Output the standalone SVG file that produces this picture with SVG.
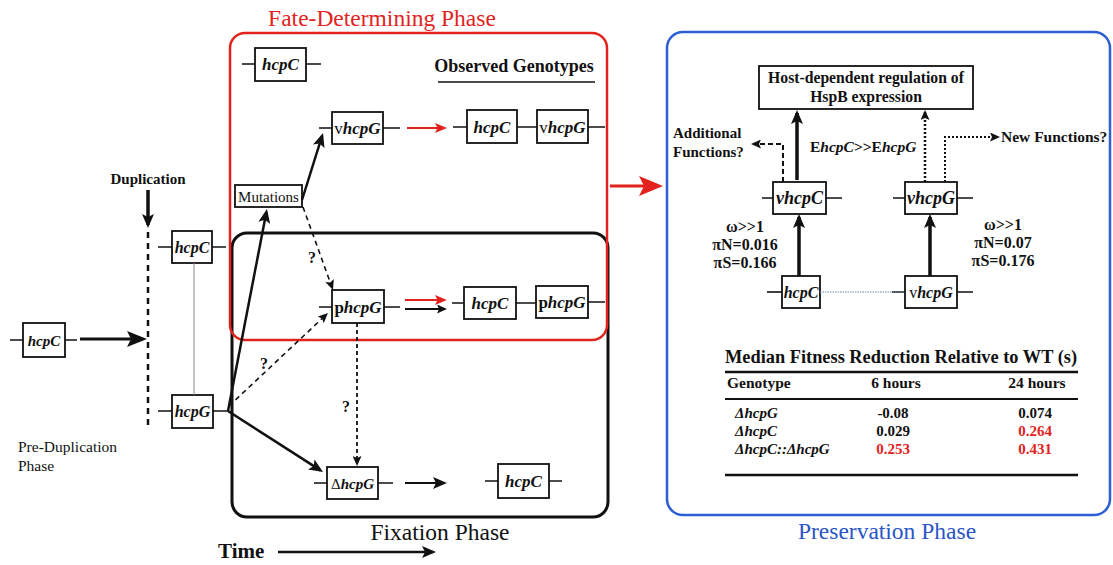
<svg xmlns="http://www.w3.org/2000/svg" width="1113" height="565" viewBox="0 0 1113 565">
<style>
text{font-family:"Liberation Serif","Times New Roman",serif;fill:#111}
.b{font-weight:bold}
.gi{font-weight:bold;font-style:italic}
.box{fill:#fff;stroke:#111;stroke-width:1.8}
.stub{stroke:#111;stroke-width:1.6;fill:none}
.g{font-size:17px;text-anchor:middle}
.gs{font-size:15px;text-anchor:middle}
.ln{stroke:#111;fill:none}
.red{fill:#e2231d}
.q{font-weight:bold;font-size:16px;text-anchor:middle}
</style>
<defs>
<marker id="hL" viewBox="0 0 20 16" markerWidth="20" markerHeight="16" refX="16" refY="8" orient="auto" markerUnits="userSpaceOnUse"><path d="M0,0 L20,8 L0,16 L4,8 z" fill="#111"/></marker>
<marker id="hM" viewBox="0 0 14 12" markerWidth="14" markerHeight="12" refX="11" refY="6" orient="auto" markerUnits="userSpaceOnUse"><path d="M0,0 L14,6 L0,12 L3,6 z" fill="#111"/></marker>
<marker id="hS" viewBox="0 0 10 9" markerWidth="10" markerHeight="9" refX="8" refY="4.5" orient="auto" markerUnits="userSpaceOnUse"><path d="M0,0 L10,4.5 L0,9 L2,4.5 z" fill="#111"/></marker>
<marker id="hR" viewBox="0 0 12 10" markerWidth="12" markerHeight="10" refX="9" refY="5" orient="auto" markerUnits="userSpaceOnUse"><path d="M0,0 L12,5 L0,10 L2.5,5 z" fill="#e2231d"/></marker>
<marker id="hRL" viewBox="0 0 24 20" markerWidth="24" markerHeight="20" refX="19" refY="10" orient="auto" markerUnits="userSpaceOnUse"><path d="M0,0 L24,10 L0,20 L5,10 z" fill="#e2231d"/></marker>
</defs>
<rect width="1113" height="565" fill="#fff"/>

<!-- phase frames -->
<g id="fixation-frame">
<rect x="232" y="233" width="376" height="284" rx="15" fill="none" stroke="#111" stroke-width="3"/>
<text x="440" y="540" font-size="23.5" text-anchor="middle">Fixation Phase</text>
</g>
<g id="fate-frame">
<rect x="230" y="33" width="377" height="307" rx="15" fill="none" stroke="#e2231d" stroke-width="2.5"/>
<text x="382" y="26" font-size="23.5" text-anchor="middle" class="red">Fate-Determining Phase</text>
</g>
<g id="preservation-frame">
<rect x="667" y="32" width="443" height="483" rx="16" fill="none" stroke="#2d5fd3" stroke-width="2.5"/>
<text x="887" y="539" font-size="23.5" text-anchor="middle" style="fill:#2a55c8">Preservation Phase</text>
</g>

<!-- left -->
<g id="pre-hcpC">
<path class="stub" d="M10,340 H23 M65,340 H77"/>
<rect class="box" x="23" y="323" width="42" height="34"/>
<text class="gi gs" x="44" y="346" font-size="16">hcpC</text>
</g>
<g id="pre-label">
<text x="18" y="452" font-size="15.5">Pre-Duplication</text>
<text x="18" y="471" font-size="15.5">Phase</text>
</g>
<g id="duplication-label">
<text class="b" x="148" y="184" font-size="15" text-anchor="middle">Duplication</text>
</g>
<g id="dup-hcpC">
<path class="stub" d="M158,247 H172 M212,247 H226"/>
<rect class="box" x="172" y="231" width="40" height="32"/>
<text class="gi" x="192" y="253" font-size="16" text-anchor="middle">hcpC</text>
</g>
<g id="dup-hcpG">
<path class="stub" d="M158,411 H172 M213,411 H228"/>
<rect class="box" x="172" y="395" width="41" height="33"/>
<text class="gi" x="192.5" y="417" font-size="16" text-anchor="middle">hcpG</text>
</g>

<!-- fate-determining nodes -->
<g id="fd-hcpC">
<path class="stub" d="M242,64 H255 M306,64 H321"/>
<rect class="box" x="255" y="48" width="51" height="33"/>
<text class="gi g" x="280.5" y="70">hcpC</text>
</g>
<g id="observed-genotypes">
<text class="b" x="514" y="72" font-size="18" text-anchor="middle">Observed Genotypes</text>
<line x1="438" y1="82" x2="595" y2="82" stroke="#111" stroke-width="1.5"/>
</g>
<g id="vhcpG">
<path class="stub" d="M319,128 H332 M383,128 H400"/>
<rect class="box" x="332" y="112" width="51" height="32"/>
<text class="g" x="357.5" y="134">v<tspan class="gi">hcpG</tspan></text>
</g>
<g id="obs-hcpC-vhcpG">
<path class="stub" d="M453,127 H467 M517,127 H537 M588,127 H605"/>
<rect class="box" x="467" y="110" width="50" height="33"/>
<text class="gi g" x="492" y="133">hcpC</text>
<rect class="box" x="537" y="110" width="51" height="33"/>
<text class="g" x="562.5" y="133">v<tspan class="gi">hcpG</tspan></text>
</g>
<g id="mutations">
<rect class="box" x="235" y="185" width="67" height="22"/>
<text x="268.5" y="201.5" font-size="15" text-anchor="middle">Mutations</text>
</g>
<g id="phcpG">
<path class="stub" d="M319,307 H332 M384,307 H400"/>
<rect class="box" x="332" y="290" width="52" height="33"/>
<text class="g b" x="358" y="313">p<tspan class="gi">hcpG</tspan></text>
</g>
<g id="obs-hcpC-phcpG">
<path class="stub" d="M452,303 H464 M516,303 H536 M588,302 H605"/>
<rect class="box" x="464" y="287" width="52" height="32"/>
<text class="gi g" x="490" y="309">hcpC</text>
<rect class="box" x="536" y="286" width="52" height="32"/>
<text class="g b" x="562" y="308">p<tspan class="gi">hcpG</tspan></text>
</g>
<g id="delta-hcpG">
<path class="stub" d="M314,483 H327 M378,483 H393"/>
<rect class="box" x="327" y="467" width="51" height="32"/>
<text class="gs" x="352.5" y="488.5">Δ<tspan class="gi">hcpG</tspan></text>
</g>
<g id="fix-hcpC">
<path class="stub" d="M485,481 H498 M549,481 H562"/>
<rect class="box" x="498" y="464" width="51" height="34"/>
<text class="gi g" x="523.5" y="487">hcpC</text>
</g>
<g id="time-label">
<text class="b" x="218" y="558" font-size="21">Time</text>
</g>

<!-- preservation phase nodes -->
<g id="host-regulation">
<rect class="box" x="759" y="66" width="214" height="43" stroke-width="2"/>
<text class="b" x="866" y="83" font-size="15.7" text-anchor="middle">Host-dependent regulation of</text>
<text class="b" x="866" y="102" font-size="15.7" text-anchor="middle">HspB expression</text>
</g>
<g id="additional-functions">
<text class="b" x="673" y="138" font-size="15">Additional</text>
<text class="b" x="673" y="157" font-size="15">Functions?</text>
</g>
<g id="new-functions">
<text class="b" x="1001" y="142" font-size="15.5">New Functions?</text>
</g>
<g id="expression-label">
<text class="b" x="810" y="152" font-size="15.5">E<tspan class="gi">hcpC</tspan>&gt;&gt;E<tspan class="gi">hcpG</tspan></text>
</g>
<g id="p-vhcpC">
<path class="stub" d="M762,198 H773 M826,198 H842"/>
<rect class="box" x="773" y="182" width="53" height="32"/>
<text class="gi" x="799.5" y="204" font-size="18" text-anchor="middle">vhcpC</text>
</g>
<g id="p-vhcpG">
<path class="stub" d="M893,198 H905 M957,198 H973"/>
<rect class="box" x="905" y="182" width="52" height="32"/>
<text class="gi" x="931" y="204" font-size="18" text-anchor="middle">vhcpG</text>
</g>
<g id="p-hcpC">
<path class="stub" d="M767,292 H782"/>
<rect class="box" x="782" y="276" width="38" height="32"/>
<text class="gi" x="801" y="298" font-size="16" text-anchor="middle">hcpC</text>
</g>
<g id="p-vhcpG2">
<path class="stub" d="M892,292 H905 M957,292 H973"/>
<rect class="box" x="905" y="276" width="52" height="32"/>
<text x="931" y="298" font-size="16" text-anchor="middle">v<tspan class="gi">hcpG</tspan></text>
</g>
<g id="stats-left">
<text class="b" x="745" y="232" font-size="16" text-anchor="middle">ω&gt;&gt;1</text>
<text class="b" x="745" y="250" font-size="16" text-anchor="middle">πN=0.016</text>
<text class="b" x="745" y="268" font-size="16" text-anchor="middle">πS=0.166</text>
</g>
<g id="stats-right">
<text class="b" x="1003" y="230" font-size="16" text-anchor="middle">ω&gt;&gt;1</text>
<text class="b" x="1003" y="248" font-size="16" text-anchor="middle">πN=0.07</text>
<text class="b" x="1003" y="266" font-size="16" text-anchor="middle">πS=0.176</text>
</g>
<g id="fitness-table">
<text class="b" x="725" y="363" font-size="18" textLength="352" lengthAdjust="spacingAndGlyphs">Median Fitness Reduction Relative to WT (s)</text>
<line x1="725" y1="372" x2="1078" y2="372" stroke="#111" stroke-width="2.5"/>
<text class="b" x="727" y="388" font-size="15.5">Genotype</text>
<text class="b" x="896" y="388" font-size="15.5" text-anchor="middle">6 hours</text>
<text class="b" x="1037" y="388" font-size="15.5" text-anchor="middle">24 hours</text>
<line x1="725" y1="399" x2="1078" y2="399" stroke="#111" stroke-width="2"/>
<text class="gi" x="735" y="418" font-size="15">ΔhcpG</text>
<text class="b" x="893" y="418" font-size="15" text-anchor="middle">-0.08</text>
<text class="b" x="1035" y="418" font-size="15" text-anchor="middle">0.074</text>
<text class="gi" x="735" y="436" font-size="15">ΔhcpC</text>
<text class="b" x="893" y="436" font-size="15" text-anchor="middle">0.029</text>
<text class="b red" x="1035" y="436" font-size="15" text-anchor="middle">0.264</text>
<text class="gi" x="735" y="454" font-size="15">ΔhcpC::ΔhcpG</text>
<text class="b red" x="893" y="454" font-size="15" text-anchor="middle">0.253</text>
<text class="b red" x="1035" y="454" font-size="15" text-anchor="middle">0.431</text>
<line x1="725" y1="475" x2="1078" y2="475" stroke="#111" stroke-width="2.5"/>
</g>

<!-- connectors -->
<g id="connectors">
<line class="ln" x1="80" y1="339" x2="143" y2="339" stroke-width="3" marker-end="url(#hL)"/>
<line class="ln" x1="148" y1="232" x2="148" y2="425" stroke-width="2.5" stroke-dasharray="6 5"/>
<line class="ln" x1="148" y1="190" x2="148" y2="225" stroke-width="3.5" marker-end="url(#hM)"/>
<line x1="194" y1="263" x2="194" y2="395" stroke="#888" stroke-width="1"/>
<line class="ln" x1="228" y1="411" x2="266.4" y2="212" stroke-width="2.5" marker-end="url(#hM)"/>
<line class="ln" x1="302" y1="200" x2="322.1" y2="135.9" stroke-width="2.5" marker-end="url(#hM)"/>
<line class="ln" x1="303" y1="207" x2="332.3" y2="288.1" stroke-width="1.6" stroke-dasharray="5 4" marker-end="url(#hS)"/>
<text class="q" x="312" y="263">?</text>
<line class="ln" x1="229" y1="406" x2="326.5" y2="314.4" stroke-width="1.6" stroke-dasharray="5 4" marker-end="url(#hS)"/>
<text class="q" x="264" y="369">?</text>
<line class="ln" x1="357" y1="323" x2="357" y2="464" stroke-width="1.8" stroke-dasharray="4 3" marker-end="url(#hS)"/>
<text class="q" x="346" y="412">?</text>
<line class="ln" x1="228" y1="411" x2="320.5" y2="470.4" stroke-width="2.5" marker-end="url(#hM)"/>
<line x1="407" y1="128" x2="444" y2="128" stroke="#e2231d" stroke-width="2" marker-end="url(#hR)"/>
<line x1="405" y1="300" x2="444" y2="300" stroke="#e2231d" stroke-width="2" marker-end="url(#hR)"/>
<line class="ln" x1="405" y1="309" x2="445" y2="309" stroke-width="2" marker-end="url(#hS)"/>
<line class="ln" x1="405" y1="483" x2="444" y2="483" stroke-width="2" marker-end="url(#hM)"/>
<line class="ln" x1="278" y1="552" x2="433" y2="552" stroke-width="2.5" marker-end="url(#hM)"/>
<line x1="610" y1="186" x2="658" y2="186" stroke="#e2231d" stroke-width="3" marker-end="url(#hRL)"/>
<line class="ln" x1="797" y1="180" x2="797" y2="113" stroke-width="3.5" marker-end="url(#hM)"/>
<line class="ln" x1="925" y1="182" x2="925" y2="112" stroke-width="2.5" stroke-dasharray="2 2" marker-end="url(#hS)"/>
<path class="ln" d="M783,182 V144 H753" stroke-width="2" stroke-dasharray="5 3" marker-end="url(#hS)"/>
<path class="ln" d="M945,182 V137 H998" stroke-width="2" stroke-dasharray="2 2" marker-end="url(#hS)"/>
<line class="ln" x1="799" y1="276" x2="799" y2="217" stroke-width="3.5" marker-end="url(#hM)"/>
<line class="ln" x1="930" y1="276" x2="930" y2="217" stroke-width="3.5" marker-end="url(#hM)"/>
<line x1="820" y1="292" x2="905" y2="292" stroke="#7080a8" stroke-width="1" stroke-dasharray="1.5 1"/>
</g>
</svg>
